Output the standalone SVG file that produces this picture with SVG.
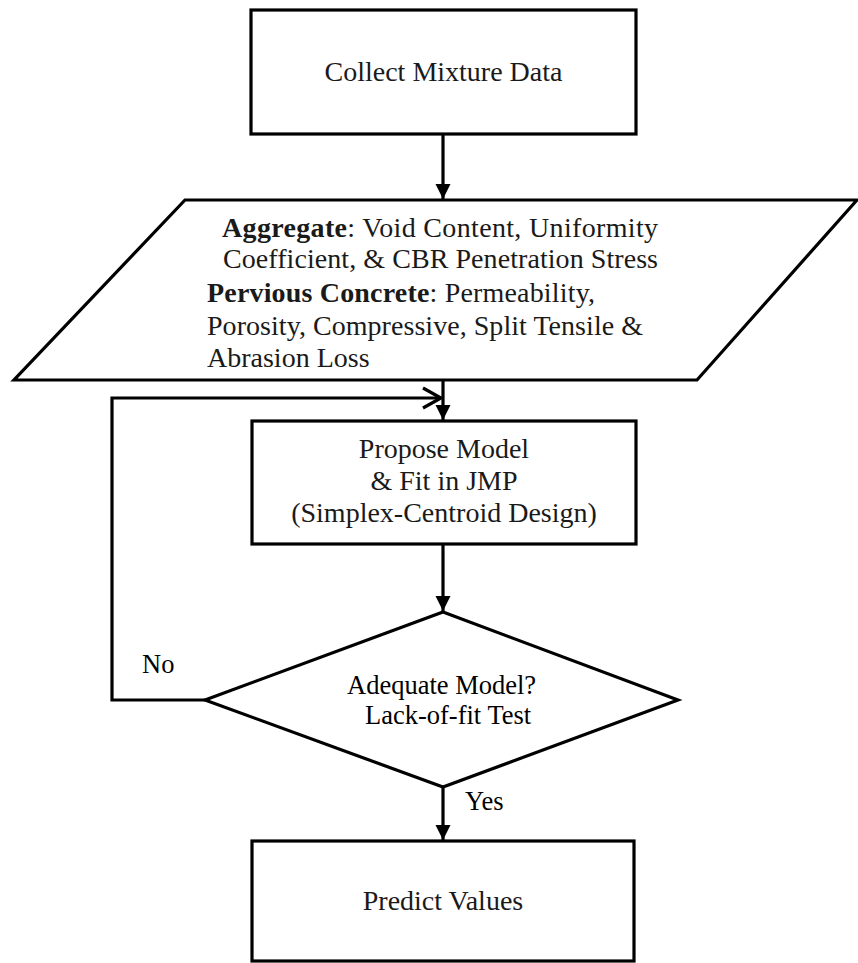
<svg xmlns="http://www.w3.org/2000/svg" width="858" height="963" viewBox="0 0 858 963">
<style>
.shape{fill:#ffffff;stroke:#000000;stroke-width:3.2;stroke-linejoin:miter}
.conn{fill:none;stroke:#000000;stroke-width:3.2}
.g{font-family:"Liberation Serif","Times New Roman",serif;font-size:28px;fill:#1a1a1a}
.t{font-family:"Liberation Serif","Times New Roman",serif;font-size:26.5px;fill:#000000}
.b{font-weight:bold}
</style>
<defs>
<marker id="arrow" markerUnits="userSpaceOnUse" markerWidth="16" markerHeight="16" refX="15" refY="7.5" orient="auto">
<path d="M0,0 L15,7.5 L0,15 z" fill="#000000"/>
</marker>
<marker id="open" markerUnits="userSpaceOnUse" markerWidth="24" markerHeight="26" refX="20" refY="12" orient="auto">
<path d="M2,2 L20,12 L2,22" fill="none" stroke="#000000" stroke-width="3.2"/>
</marker>
</defs>

<g id="collect">
<rect class="shape" x="251" y="10" width="385" height="124"/>
<text class="g" x="443.5" y="81" text-anchor="middle">Collect Mixture Data</text>
</g>

<g id="data">
<polygon class="shape" points="185,200 857,200 697,380 14,380"/>
<text class="g" x="222" y="237" textLength="436" lengthAdjust="spacing"><tspan class="b">Aggregate</tspan>: Void Content, Uniformity</text>
<text class="g" x="223" y="268" textLength="435" lengthAdjust="spacing">Coefficient, &amp; CBR Penetration Stress</text>
<text class="g" x="207" y="302" textLength="388" lengthAdjust="spacing"><tspan class="b">Pervious Concrete</tspan>: Permeability,</text>
<text class="g" x="207" y="335" textLength="436" lengthAdjust="spacing">Porosity, Compressive, Split Tensile &amp;</text>
<text class="g" x="207" y="367">Abrasion Loss</text>
</g>

<g id="propose">
<rect class="shape" x="252" y="421" width="384" height="123"/>
<text class="g" x="444" y="458" text-anchor="middle">Propose Model</text>
<text class="g" x="444" y="490" text-anchor="middle">&amp; Fit in JMP</text>
<text class="g" x="444" y="522" text-anchor="middle">(Simplex-Centroid Design)</text>
</g>

<g id="adequate">
<polygon class="shape" points="443,612 678,700 443,787 205,700"/>
<text class="t" x="347" y="694">Adequate Model?</text>
<text class="t" x="365" y="724">Lack-of-fit Test</text>
</g>

<g id="predict">
<rect class="shape" x="252" y="841" width="382" height="120"/>
<text class="g" x="443" y="910" text-anchor="middle">Predict Values</text>
</g>

<g id="connectors">
<line class="conn" x1="443" y1="134" x2="443" y2="199" marker-end="url(#arrow)"/>
<line class="conn" x1="443" y1="380" x2="443" y2="420" marker-end="url(#arrow)"/>
<line class="conn" x1="443" y1="544" x2="443" y2="611" marker-end="url(#arrow)"/>
<line class="conn" x1="443" y1="787" x2="443" y2="840" marker-end="url(#arrow)"/>
<polyline class="conn" points="205,700 112,700 112,398 441,398" marker-end="url(#open)"/>
<text class="t" x="142" y="673">No</text>
<text class="t" x="465" y="810">Yes</text>
</g>
</svg>
